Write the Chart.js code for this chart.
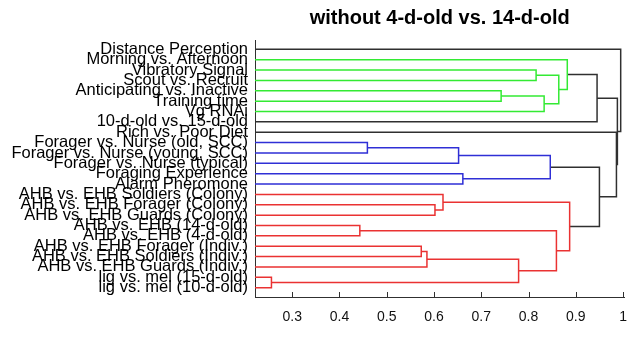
<!DOCTYPE html>
<html lang="en">
<head>
    <meta charset="UTF-8">
    <title>Dendrogram</title>
    <style>
        body { margin: 0; background: #fff; }
        #wrap { width: 639px; height: 339px; }
    </style>
    <script src="https://cdn.jsdelivr.net/npm/chart.js"></script>
</head>
<body>
    <div id="wrap"><canvas id="tree"></canvas></div>

    <script>
        // leaf names, top to bottom (leaf ids 1..24)
        const leafNames = [
            'Distance Perception',
            'Morning vs. Afternoon',
            'Vibratory Signal',
            'Scout vs. Recruit',
            'Anticipating vs. Inactive',
            'Training time',
            'Vg RNAi',
            '10-d-old vs. 15-d-old',
            'Rich vs. Poor Diet',
            'Forager vs. Nurse (old, SCC)',
            'Forager vs. Nurse (young, SCC)',
            'Forager vs. Nurse (typical)',
            'Foraging Experience',
            'Alarm Pheromone',
            'AHB vs. EHB Soldiers (Colony)',
            'AHB vs. EHB Forager (Colony)',
            'AHB vs. EHB Guards (Colony)',
            'AHB vs. EHB (14-d-old)',
            'AHB vs. EHB (4-d-old)',
            'AHB vs. EHB Forager (Indiv.)',
            'AHB vs. EHB Soldiers (Indiv.)',
            'AHB vs. EHB Guards (Indiv.)',
            'lig vs. mel (15-d-old)',
            'lig vs. mel (10-d-old)'
        ];

        // linkage: merge k joins mergeLeft[k] and mergeRight[k] into node 25 + k
        const mergeLeft   = [3, 5, 26, 25, 2, 29, 10, 31, 13, 32, 16, 15, 18, 20, 38, 23, 39, 37, 36, 34, 9, 30, 1];
        const mergeRight  = [4, 6, 7, 27, 28, 8, 11, 12, 14, 33, 17, 35, 19, 21, 22, 24, 40, 41, 42, 43, 44, 45, 46];
        const mergeHeight = [0.816, 0.742, 0.833, 0.864, 0.882, 0.945, 0.459, 0.652, 0.661, 0.846,
                             0.602, 0.619, 0.443, 0.573, 0.585, 0.256, 0.779, 0.859, 0.887, 0.950,
                             0.986, 0.988, 0.995];

        const tickValues = [0.3, 0.4, 0.5, 0.6, 0.7, 0.8, 0.9, 1];
        const tickLabels = ['0.3', '0.4', '0.5', '0.6', '0.7', '0.8', '0.9', '1'];

        const colorThreshold = 0.9;
        const xMin = 0.2212, xMax = 1.0027;

        const clusterColors = ['#33ea33', '#2f2fd6', '#ea3232'];
        const linkDark = '#303030';

        // node positions: leaves sit at the left edge, merges at their height
        const nLeaves = leafNames.length;
        const nodeY = {}, nodeH = {}, parent = {};
        leafNames.forEach((_, i) => { nodeY[i + 1] = i + 1; nodeH[i + 1] = xMin; });
        mergeHeight.forEach((h, k) => {
            const id = nLeaves + 1 + k;
            nodeY[id] = (nodeY[mergeLeft[k]] + nodeY[mergeRight[k]]) / 2;
            nodeH[id] = h;
            parent[mergeLeft[k]] = id;
            parent[mergeRight[k]] = id;
        });

        // cluster root = highest ancestor still under the threshold
        function clusterRoot(id) {
            while (parent[id] && nodeH[parent[id]] < colorThreshold) id = parent[id];
            return id;
        }
        const roots = [];
        mergeHeight.forEach((h, k) => {
            if (h < colorThreshold) {
                const r = clusterRoot(nLeaves + 1 + k);
                if (!roots.includes(r)) roots.push(r);
            }
        });
        roots.sort((a, b) => nodeY[a] - nodeY[b]);

        function linkColor(k) {
            if (mergeHeight[k] >= colorThreshold) return linkDark;
            return clusterColors[roots.indexOf(clusterRoot(nLeaves + 1 + k)) % clusterColors.length];
        }

        const datasets = mergeHeight.map((h, k) => {
            const a = mergeLeft[k], b = mergeRight[k];
            return {
                data: [
                    { x: nodeH[a], y: nodeY[a] },
                    { x: h, y: nodeY[a] },
                    { x: h, y: nodeY[b] },
                    { x: nodeH[b], y: nodeY[b] }
                ],
                borderColor: linkColor(k),
                borderWidth: 1.5,
                showLine: true,
                pointRadius: 0,
                tension: 0,
                fill: false
            };
        });

        // small tick marks pointing up into the plot
        const inwardTicks = {
            id: 'inwardTicks',
            afterDraw(chart) {
                const { ctx, chartArea, scales: { x } } = chart;
                ctx.save();
                ctx.strokeStyle = linkDark;
                ctx.lineWidth = 1;
                x.ticks.forEach(t => {
                    const px = Math.round(x.getPixelForValue(t.value)) + 0.5;
                    ctx.beginPath();
                    ctx.moveTo(px, chartArea.bottom);
                    ctx.lineTo(px, chartArea.bottom - 5);
                    ctx.stroke();
                });
                ctx.restore();
            }
        };

        Chart.defaults.font.family = '"Liberation Sans", Arial, sans-serif';
        Chart.defaults.color = '#000';

        new Chart(document.getElementById('tree'), {
            type: 'scatter',
            data: { datasets },
            plugins: [inwardTicks],
            options: {
                responsive: true,
                maintainAspectRatio: false,
                animation: false,
                events: [],
                layout: { padding: { left: 0, right: 14, top: 0, bottom: 0 } },
                plugins: {
                    legend: { display: false },
                    tooltip: { enabled: false },
                    title: {
                        display: true,
                        text: 'without 4-d-old vs. 14-d-old',
                        fullSize: false,
                        color: '#000',
                        font: { size: 20, weight: 'bold' },
                        padding: { top: 6, bottom: 10 }
                    }
                },
                scales: {
                    x: {
                        type: 'linear',
                        min: xMin,
                        max: xMax,
                        afterBuildTicks: axis => { axis.ticks = tickValues.map(v => ({ value: v })); },
                        afterFit: s => { s.height = 42; },
                        ticks: {
                            callback: (v, i) => tickLabels[i],
                            font: { size: 14 },
                            color: '#111',
                            padding: 12,
                            maxRotation: 0
                        },
                        grid: { display: false, drawTicks: false },
                        border: { display: true, color: linkDark, width: 1 }
                    },
                    y: {
                        type: 'linear',
                        reverse: true,
                        min: 0.1,
                        max: 24.9,
                        afterBuildTicks: axis => { axis.ticks = leafNames.map((_, i) => ({ value: i + 1 })); },
                        afterFit: s => { s.width = 255; },
                        ticks: {
                            callback: (v, i) => leafNames[i],
                            autoSkip: false,
                            font: { size: 16.5 },
                            color: '#000',
                            padding: 7
                        },
                        grid: { display: false, drawTicks: false },
                        border: { display: true, color: linkDark, width: 1 }
                    }
                }
            }
        });
    </script>
</body>
</html>
